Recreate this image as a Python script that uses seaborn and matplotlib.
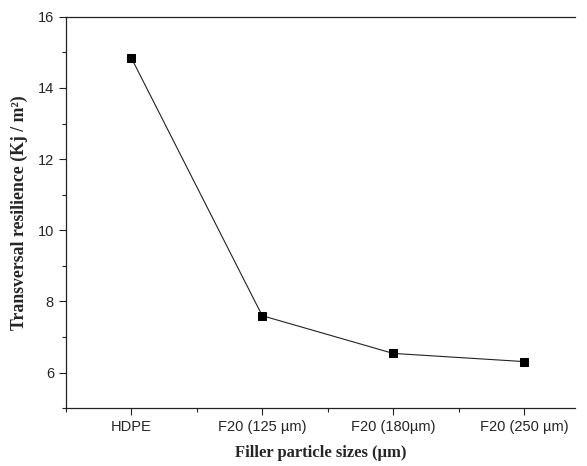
import numpy as np
import pandas as pd
import matplotlib
matplotlib.use("Agg")
import matplotlib.pyplot as plt
import seaborn as sns
from matplotlib.ticker import MultipleLocator

# data
samples = ["HDPE", "F20 (125 µm)", "F20 (180µm)", "F20 (250 µm)"]
resilience = [14.85, 7.6, 6.54, 6.31]

df = pd.DataFrame({"pos": np.arange(1, len(samples) + 1), "resilience": resilience})

sns.set_style("ticks")
plt.rcParams["font.family"] = ["Liberation Sans", "DejaVu Sans"]

fig = plt.figure(figsize=(5.87, 4.66), dpi=100)
ax = fig.add_axes([0.112, 0.124, 0.868, 0.840])

sns.lineplot(data=df, x="pos", y="resilience", ax=ax, color="#222222", linewidth=0.8,
             marker="s", markersize=6, markerfacecolor="black", markeredgecolor="black")

ax.set_xlim(0.5, 4.39)
ax.set_ylim(5, 16)
ax.set_xticks(df["pos"])
ax.set_xticklabels(samples)
ax.xaxis.set_minor_locator(MultipleLocator(0.5))
ax.yaxis.set_major_locator(MultipleLocator(2))
ax.yaxis.set_minor_locator(MultipleLocator(1))
ax.tick_params(axis="both", which="major", length=5, width=0.8, labelsize=10.5, direction="out", color="#222222")
ax.tick_params(axis="both", which="minor", length=3, width=0.8, direction="out", color="#222222")
ax.set_yticks([6, 8, 10, 12, 14, 16])

for s in ["left", "bottom", "top"]:
    ax.spines[s].set_visible(True)
    ax.spines[s].set_linewidth(0.9)
    ax.spines[s].set_color("#222222")
ax.spines["right"].set_visible(False)

ax.set_xlabel("Filler particle sizes (µm)", fontfamily="Liberation Serif", fontweight="bold",
              fontsize=12, labelpad=8)
ax.set_ylabel("Transversal resilience (Kj / m²)", fontfamily="Liberation Serif", fontweight="bold",
              fontsize=12.8, labelpad=7)

fig.savefig("out.png", dpi=100)
